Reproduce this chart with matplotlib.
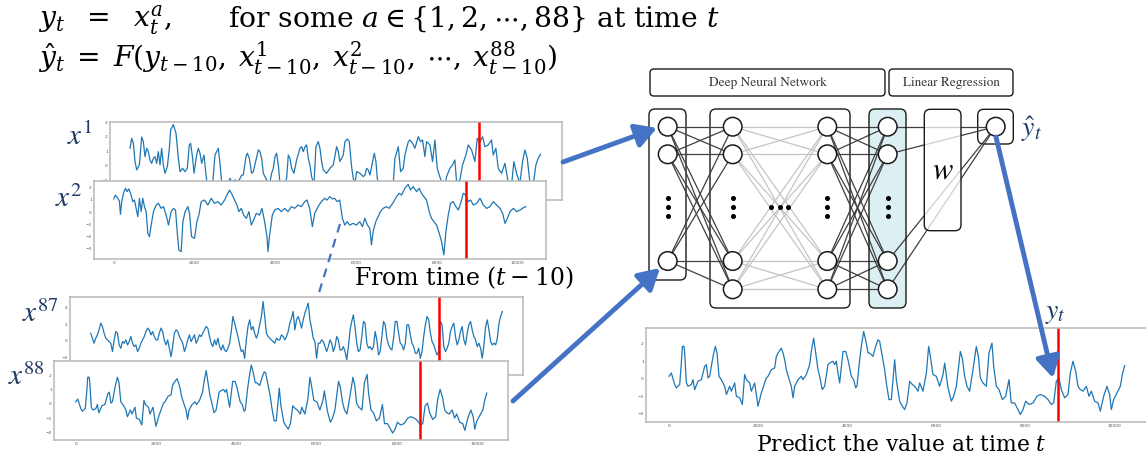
import matplotlib.pyplot as plt
import numpy as np
from matplotlib.patches import FancyBboxPatch, Circle

plt.rcParams['mathtext.fontset'] = 'dejavuserif'
plt.rcParams['font.family'] = ['DejaVu Serif']

W, H = 1146, 459
BLUE = '#4472C4'
NAVY = '#1F3864'
LINE = '#1f77b4'

# ---- series (time index, value) ----
# target series y_t (x^88 shows the same series)
yt_points = [
    (0, 0.15), (52, 0.34), (127, -0.32), (165, -0.51), (240, -0.32), (277, 0.91), (300, 1.86),
    (337, 1.86), (352, 1.48), (390, -0.23), (427, -0.42), (502, -0.32), (539, -0.04), (577, -0.61),
    (652, -0.13), (727, -0.04), (801, 0.72), (839, 0.82), (876, 0.06), (914, 0.15), (989, 1.29),
    (1041, 1.86), (1079, 1.48), (1124, 0.15), (1176, -0.04), (1251, -0.42), (1289, -0.89),
    (1363, -0.42), (1401, -0.70), (1476, -0.23), (1513, -0.99), (1588, -1.08), (1648, -1.46),
    (1700, 0.25), (1738, -0.04), (1813, -0.23), (1850, -0.70), (1925, -0.23), (2000, -1.56),
    (2075, -0.80), (2112, -0.51), (2187, 0.06), (2225, 0.15), (2262, 0.34), (2300, 0.53),
    (2374, 0.63), (2412, 1.29), (2449, 1.48), (2524, 1.76), (2562, 1.48), (2599, 1.10),
    (2637, 0.53), (2712, -0.13), (2749, -0.42), (2787, -1.08), (2824, -0.42), (2899, -0.04),
    (2974, 0.15), (3011, -0.04), (3086, 0.25), (3161, 0.82), (3198, 1.57), (3251, 2.33),
    (3296, 1.48), (3348, 0.53), (3385, 0.15), (3445, -0.61), (3498, -0.42), (3573, 0.82),
    (3610, 0.91), (3685, 1.01), (3723, 0.82), (3760, 1.01), (3797, 0.34), (3835, -0.23),
    (3910, 1.57), (3970, 1.57), (4022, 1.10), (4097, 0.15), (4149, -0.04), (4194, -0.51),
    (4224, -0.42), (4284, 1.10), (4322, 1.86), (4374, 2.71), (4419, 2.24), (4472, 1.48),
    (4509, 1.48), (4584, 1.29), (4644, 1.86), (4696, 2.24), (4734, 2.14), (4794, 1.29),
    (4846, 0.53), (4884, -0.23), (4943, -1.18), (4996, -1.18), (5071, 1.10), (5108, -0.04),
    (5183, -1.27), (5243, -1.56), (5296, -1.75), (5348, -1.37), (5408, -0.13), (5468, -0.32),
    (5521, -0.42), (5595, -0.70), (5633, -0.23), (5708, -0.70), (5783, 0.34), (5835, 1.86),
    (5873, 1.29), (5932, 0.25), (6007, 0.15), (6082, -0.42), (6157, 0.25), (6195, 0.91),
    (6270, -0.51), (6344, -1.27), (6397, -0.99), (6457, -0.42), (6547, 1.57), (6591, 1.19),
    (6644, 0.15), (6696, -0.42), (6756, -0.70), (6831, 0.53), (6906, 1.86), (6951, 1.29),
    (6996, 0.06), (7056, -0.23), (7131, -0.42), (7191, 1.48), (7258, 2.05), (7296, 0.72),
    (7356, -0.42), (7416, -0.61), (7491, -1.18), (7565, -0.99), (7640, -0.04), (7692, -1.37),
    (7767, -1.37), (7842, -1.75), (7895, -2.03), (7955, -1.75), (8015, -1.27), (8090, -1.46),
    (8180, -1.37), (8269, -0.99), (8344, -0.89), (8441, -0.99), (8516, -1.18), (8591, -1.46),
    (8644, -1.37), (8704, -0.13), (8763, 0.06), (8816, -0.61), (8891, -1.08), (8966, -0.89),
    (9018, 0.34), (9078, 1.01), (9138, 0.44), (9191, -0.42), (9243, -0.61), (9303, -0.70),
    (9378, -0.42), (9438, -0.99), (9490, -0.70), (9565, -1.27), (9640, -1.37), (9693, -1.84),
    (9767, -0.99), (9842, -0.42), (9902, -0.89), (9940, -1.75), (9992, -1.18), (10067, -0.80),
    (10142, -0.42), (10187, 0.25), (10239, 0.76),
]

x1_points = [
    (0, 1.21), (42, 1.89), (83, 1.55), (125, 0.30), (166, -0.27), (233, 0.07), (291, 1.99),
    (332, 1.66), (374, 0.64), (416, 1.21), (457, 0.98), (499, 0.41), (540, 0.18), (582, 0.53),
    (623, 0.64), (665, 0.18), (706, 0.98), (748, 0.07), (789, 1.21), (831, 0.07), (873, -0.50),
    (931, -0.05), (981, 1.21), (1014, 2.47), (1080, 2.83), (1147, 2.24), (1205, 0.53),
    (1247, -0.39), (1313, -0.16), (1371, -0.39), (1429, -0.16), (1479, 1.44), (1512, 1.55),
    (1562, 0.53), (1596, -0.50), (1662, 0.75), (1704, 1.21), (1745, 0.87), (1787, 0.18),
    (1845, 0.75), (1895, -0.62), (1928, -1.3), (1994, -1.5), (2061, -1.2), (2119, 0.75),
    (2161, 0.98), (2202, 1.21), (2244, 0.18), (2285, -1.1), (2368, -1.4), (2451, -1.2),
    (2493, -0.85), (2535, -1.1), (2618, -0.96), (2701, -1.1), (2784, -0.62), (2825, -0.62),
    (2892, 0.64), (2925, 0.87), (2975, 0.53), (3033, -0.50), (3075, -0.39), (3133, 0.30),
    (3199, 1.10), (3241, 0.98), (3282, 0.53), (3324, -0.50), (3407, -0.96), (3474, -1.3),
    (3532, -0.50), (3573, -0.16), (3615, 0.64), (3656, 0.87), (3698, 0.07), (3740, -1.2),
    (3823, -1.4), (3906, -0.84), (3947, 0.75), (3989, 0.53), (4030, -0.16), (4089, -0.50),
    (4155, 0.41), (4238, 1.21), (4280, 1.32), (4321, 0.98), (4363, 1.32), (4404, 1.44),
    (4446, 0.53), (4487, 0.07), (4529, -0.73), (4587, -1.3), (4637, 1.32), (4695, 1.67),
    (4737, 1.21), (4778, 0.30), (4820, -0.27), (4903, -0.50), (4986, -0.16), (5069, 0.07),
    (5152, 1.32), (5194, 0.98), (5235, 0.30), (5318, 0.75), (5360, 1.66), (5418, 1.85),
    (5468, 1.66), (5526, -0.05), (5567, -0.84), (5609, -1.2), (5651, -0.39), (5734, -0.50),
    (5817, -0.73), (5858, -0.62), (5900, -0.16), (5941, -0.27), (5983, -0.62), (6025, -0.05),
    (6066, 0.53), (6091, 0.87), (6133, 0.30), (6166, -0.84), (6216, -1.3), (6316, -1.5),
    (6399, -1.3), (6482, -1.4), (6565, -1.2), (6606, 0.53), (6631, 0.75), (6690, 1.32),
    (6748, -0.39), (6814, -0.16), (6856, 0.75), (6939, 1.66), (6980, 1.78), (7047, 1.55),
    (7105, 1.21), (7188, 2.0), (7246, 1.66), (7296, 1.78), (7354, 0.64), (7396, 1.67),
    (7479, 1.44), (7545, 0.30), (7604, 1.78), (7662, -0.16), (7712, -0.62), (7770, -1.1),
    (7853, -1.3), (7895, -0.73), (7978, -0.16), (8044, 0.07), (8102, 0.41), (8144, -1.1),
    (8227, -0.96), (8293, 0.07), (8377, 0.75), (8435, 1.44), (8518, 1.10), (8601, 0.30),
    (8659, 1.89), (8726, 1.66), (8792, 2.0), (8850, 1.32), (8933, 1.44), (9016, 1.78),
    (9058, 0.75), (9124, 1.21), (9183, -0.16), (9266, -0.50), (9349, 0.18), (9432, -1.1),
    (9515, -1.3), (9573, 0.30), (9640, -0.50), (9723, -1.2), (9789, 0.30), (9848, 1.10),
    (9906, 0.53), (9972, -1.1), (10055, -1.3), (10122, 0.07), (10180, 0.53), (10238, 0.80),
]

x2_points = [
    (0, 1.07), (41, 1.39), (99, 1.12), (140, 0.90), (165, -0.19), (198, 0.85), (240, 1.53),
    (289, 1.94), (331, 1.67), (372, 1.89), (430, 1.39), (471, 0.85), (512, 0.98), (554, 0.30),
    (595, -0.38), (636, 1.12), (678, 0.03), (719, 1.12), (760, 0.44), (802, 0.03), (843, -1.75),
    (884, -2.02), (926, -1.07), (983, 0.03), (1050, 0.57), (1107, 0.71), (1173, 0.30),
    (1231, 0.44), (1297, -0.25), (1355, -1.07), (1421, 0.03), (1479, 0.30), (1529, 0.16),
    (1570, -1.61), (1611, -3.11), (1669, -3.25), (1711, -0.79), (1768, 0.03), (1835, 0.44),
    (1876, -0.11), (1926, -2.02), (2000, -2.16), (2058, -0.79), (2107, -0.25), (2165, 0.85),
    (2248, 0.98), (2330, 0.57), (2413, 1.12), (2496, 0.71), (2578, 0.85), (2661, 0.57),
    (2744, 0.98), (2802, 1.39), (2868, 1.80), (2934, 1.39), (2992, 0.98), (3050, 0.57),
    (3099, 0.03), (3157, 0.30), (3215, -0.25), (3281, -0.52), (3347, 0.03), (3405, -1.07),
    (3463, -0.66), (3529, -0.11), (3611, -0.25), (3669, 0.30), (3735, -0.79), (3793, -2.02),
    (3818, -3.25), (3859, -1.88), (3926, -0.25), (3983, 0.16), (4066, 0.30), (4149, 0.03),
    (4231, 0.30), (4314, 0.03), (4397, 0.44), (4479, 0.30), (4562, 0.57), (4645, 0.44),
    (4727, 0.85), (4785, 0.98), (4851, 0.30), (4917, -1.20), (4975, -0.11), (5058, 0.44),
    (5140, 0.85), (5223, 1.12), (5281, 0.98), (5347, 1.26), (5413, 1.07), (5471, 1.12),
    (5529, 0.85), (5595, 0.98), (5661, -0.52), (5719, -1.07), (5777, -0.79), (5843, -1.07),
    (5925, -0.93), (6008, -1.07), (6091, -0.79), (6157, -1.20), (6215, -0.52), (6281, -1.07),
    (6339, -1.34), (6380, -2.70), (6421, -1.61), (6487, -0.79), (6545, -0.38), (6603, 0.03),
    (6669, 0.30), (6752, 0.44), (6818, 0.30), (6876, 0.57), (6933, 0.85), (7000, 1.26),
    (7066, 1.53), (7124, 1.39), (7206, 1.94), (7289, 2.27), (7347, 1.80), (7413, 2.08),
    (7496, 1.67), (7562, 1.94), (7620, 1.53), (7677, 1.26), (7743, 0.98), (7810, 0.03),
    (7867, -0.52), (7925, -0.79), (7992, -1.07), (8058, -1.75), (8115, -2.43), (8173, -3.52),
    (8223, -1.61), (8281, -0.25), (8339, 0.71), (8405, 0.85), (8471, 0.44), (8529, 0.16),
    (8587, 0.71), (8653, 1.53), (8711, 1.39), (8777, 0.85), (8835, 0.98), (8901, 0.57),
    (8983, 0.71), (9066, 1.12), (9149, 0.57), (9231, 0.30), (9314, 0.44), (9397, 0.85),
    (9479, 0.57), (9562, 0.30), (9628, -0.11), (9686, -0.93), (9744, -0.52), (9810, 0.03),
    (9892, 0.30), (9975, 0.03), (10058, 0.16), (10140, 0.35), (10198, 0.44),
]

# x^87 read at even steps across 0..10240
x87_vals = [
    0.9, 0.3, -0.3, 0.3, 0.7, 1.3, 2.1, 1.7, 0.9, 0.3, 0.1, -0.1, -0.3, -1.3, 0.1, 1.1, 0.9,
    -0.5, -0.9, -0.1, -0.3, 0.1, -0.5, -0.1, 0.5, -0.3, -0.7, -0.5, -1.3, -0.9, -0.3, 0.1,
    0.5, 1.1, 1.5, 1.3, 0.7, 1.1, 0.5, 0.1, 0.1, 0.9, 1.5, 1.1, 0.1, -0.5, 0.1, -0.9, -1.9,
    -0.7, 0.9, 1.3, 1.1, 0.5, 0.1, -0.3, -1.3, -0.7, 0.1, 0.7, -0.1, 0.3, 0.7, -0.3, 0.1,
    0.7, 0.5, 0.9, 1.3, 1.7, 1.5, 0.5, -0.3, -0.7, 0.1, -0.5, 0.3, -0.7, -1.1, -0.5, -1.1,
    -1.3, -0.9, -0.3, 1.1, 2.9, 2.1, 1.3, 0.5, -0.5, -1.3, -1.1, -2.1, 0.1, 1.7, 2.5, 1.3,
    1.7, 0.9, 0.3, 0.9, 1.9, 2.9, 4.7, 2.9, 0.9, 0.5, 0.3, 0.1, -0.1, -0.3, 0.3, 0.1, 0.1,
    0.7, 0.5, 0.1, 0.5, 1.1, 2.1, 2.7, 3.5, 1.3, 2.5, 2.9, 2.3, 1.5, 2.5, 3.3, 3.9, 4.5,
    2.5, 1.5, 0.3, -0.1, -2.1, -0.3, -0.3, 0.1, -0.1, -0.7, -1.3, -0.7, 0.1, -0.3, -1.3,
    -0.7, 0.5, 0.1, -1.1, -1.1, -0.7, -1.3, -2.3, -0.7, 1.3, 2.3, 3.1, 1.5, -0.3, -1.3,
    -1.1, 0.5, 2.3, 2.1, -0.3, -0.9, -0.7, -1.1, -0.7, 1.1, 0.1, -1.7, -1.3, 0.5, 2.3, 1.9,
    0.3, -0.5, -0.9, -1.1, 0.3, 2.3, 2.3, 0.9, -0.3, -0.5, -1.1, -0.3, 1.9, 1.9, 0.7, -0.3,
    -0.7, -1.5, -1.5, -0.9, -2.1, -1.3, 0.5, 1.9, 2.9, 2.5, 0.9, -0.1, -0.5, -1.1, -1.7,
    -1.3, 2.3, 1.9, -0.7, -1.3, -0.9, -0.3, 1.1, 1.7, 2.1, 0.5, -0.5, 0.1, 1.1, 1.7, 0.1,
    -0.5, 0.9, 1.9, 2.3, 1.3, 0.5, 0.1, -0.7, -0.3, -0.9, -2.1, -0.5, 1.7, 2.5, 1.3, -0.1,
    -0.5, -0.3, -0.5, 0.3, 2.1, 2.9, 3.5,
]

# position of the red marker in each panel
red_t = {'x1': 8710, 'x2': 8720, 'x87': 8672, 'x88': 8566, 'yt': 8740}

xticks = [0, 2000, 4000, 6000, 8000, 10000]

fig = plt.figure(figsize=(W / 100, H / 100), dpi=100)


def px_rect(x0, y0, x1, y1):
    return [x0 / W, 1 - y1 / H, (x1 - x0) / W, (y1 - y0) / H]


def panel(frame, t, v, red, xlim, ylim, yticks):
    ax = fig.add_axes(px_rect(*frame))
    ax.set_facecolor('white')
    ax.plot(t, v, color=LINE, lw=0.9)
    ax.axvline(red, color='#ff0000', lw=1.8)
    ax.set_xlim(*xlim)
    ax.set_ylim(*ylim)
    ax.set_xticks(xticks)
    ax.set_yticks(yticks)
    ax.tick_params(length=0, pad=1.5, labelsize=3.2, labelcolor='#555555')
    for lab in ax.get_xticklabels() + ax.get_yticklabels():
        lab.set_family('DejaVu Sans')
    for sp in ax.spines.values():
        sp.set_color('#b8b8b8')
        sp.set_linewidth(1.1)
    return ax


yt_t, yt_v = zip(*yt_points)
x1_t, x1_v = zip(*x1_points)
x2_t, x2_v = zip(*x2_points)
x87_t = np.linspace(0, 10240, len(x87_vals))

panel((110, 122, 562, 200), x1_t, x1_v, red_t['x1'], (-499, 10773), (-2.33, 3.01), [-1, 0, 1, 2, 3])
panel((94, 181, 546, 259), x2_t, x2_v, red_t['x2'], (-489, 10701), (-3.85, 2.54), [-3, -2, -1, 0, 1, 2])
panel((70, 297, 523, 375), x87_t, x87_vals, red_t['x87'], (-515, 10754), (-4.1, 5.23), [-2, 0, 2, 4])
panel((54, 361, 508, 440), yt_t, yt_v, red_t['x88'], (-540, 10768), (-2.51, 2.99), [-2, -1, 0, 1, 2])
panel((646, 328, 1150, 422), yt_t, yt_v, red_t['yt'], (-517, 10809), (-2.46, 2.91), [-2, -1, 0, 1, 2])

# ---- overlay in pixel coordinates: equations, network, arrows ----
ov = fig.add_axes([0, 0, 1, 1], zorder=10)
ov.set_xlim(0, W)
ov.set_ylim(H, 0)
ov.axis('off')
ov.patch.set_alpha(0)

eq_size = 20.3
ov.text(38, 27, r'$y_t\ \ =\ \ x_t^a,$', fontsize=eq_size, va='baseline')
ov.text(228, 27, r'for some $a \in \{1,2,\cdots,88\}$ at time $t$', fontsize=eq_size, va='baseline')
ov.text(38, 67, r'$\hat{y}_t\;=\;F(y_{t-10},\:x_{t-10}^1,\:x_{t-10}^2,\:\cdots,\:x_{t-10}^{88})$',
        fontsize=eq_size, va='baseline')

for lab, (lx, ly) in {'x^{1}': (67, 145), 'x^{2}': (55, 207), 'x^{87}': (22, 322), 'x^{88}': (8, 385)}.items():
    ov.text(lx, ly, f'${lab}$', fontsize=21, color=NAVY, va='baseline', math_fontfamily='stix')

ov.text(464, 285, r'From time $(t-10)$', fontsize=17, ha='center', va='baseline')
ov.text(901, 451, r'Predict the value at time $t$', fontsize=15.7, ha='center', va='baseline')
ov.text(1021, 136, r'$\hat{y}_t$', fontsize=20, color=NAVY, va='baseline', math_fontfamily='stix')
ov.text(1045, 318, r'$y_t$', fontsize=20, color=NAVY, va='baseline', math_fontfamily='stix')


def rbox(x0, y0, x1, y1, fc='none', z=2, r=6, alpha=1.0):
    ov.add_patch(FancyBboxPatch((x0, y0), x1 - x0, y1 - y0,
                                boxstyle=f'round,pad=0,rounding_size={r}',
                                fc=fc, ec='#1a1a1a', lw=1.0, zorder=z, alpha=alpha))


# header boxes
rbox(650, 69, 885, 96, r=4)
rbox(889, 69, 1013, 96, r=4)
ov.text(767.5, 83, 'Deep Neural Network', fontsize=9.5, ha='center', va='center',
        color='#333333', family='STIXGeneral')
ov.text(951, 83, 'Linear Regression', fontsize=9.5, ha='center', va='center',
        color='#333333', family='STIXGeneral')

# layer boxes
rbox(649, 109, 686, 280)
rbox(710, 109, 850, 308)
ov.add_patch(FancyBboxPatch((869, 109), 37, 199, boxstyle='round,pad=0,rounding_size=6',
                            fc='#dcf0f3', ec='none', zorder=1))
rbox(869, 109, 906, 308, z=5)
rbox(977.7, 109.3, 1013.3, 144)

layer_x = [667.7, 732.7, 827.3, 887.7]
node_y4 = [126.7, 154.3, 261, 289.3]
layers = [(layer_x[0], node_y4[:3]), (layer_x[1], node_y4), (layer_x[2], node_y4), (layer_x[3], node_y4)]
out_node = (995.7, 126.7)
dark, light = '#404040', '#c4c4c4'

for i in range(3):
    xa, ya = layers[i]
    xb, yb = layers[i + 1]
    col = light if i == 1 else dark
    for a in ya:
        for b in yb:
            ov.plot([xa, xb], [a, b], color=col, lw=0.9, zorder=3)
for b in node_y4:
    ov.plot([layer_x[3], out_node[0]], [b, out_node[1]], color=dark, lw=0.9, zorder=3)

# weight box drawn over the regression lines
ov.add_patch(FancyBboxPatch((924.3, 109.3), 36.7, 121.4, boxstyle='round,pad=0,rounding_size=6',
                            fc='white', ec='none', alpha=0.75, zorder=4))
rbox(924.3, 109.3, 961, 230.7, z=5)
ov.text(942.7, 170, r'$w$', fontsize=22, ha='center', va='center', zorder=6, math_fontfamily='stix')

for lx, ys in layers:
    for y in ys:
        ov.add_patch(Circle((lx, y), 9.3, fc='white', ec='#1a1a1a', lw=1.1, zorder=6))
    ov.plot([lx] * 3, [198.3, 206.7, 215.7], 'o', color='black', ms=2.6, zorder=6)
ov.add_patch(Circle(out_node, 9.3, fc='white', ec='#1a1a1a', lw=1.1, zorder=6))
ov.plot([771, 780, 788.3], [206.7] * 3, 'o', color='black', ms=2.6, zorder=6)

# arrows
arrow_kw = dict(arrowstyle='-|>,head_length=0.7,head_width=0.4', lw=3.5, color=BLUE,
                shrinkA=0, shrinkB=0, mutation_scale=18)
for start, tip in [((563, 162), (657, 128)), ((513, 401), (660, 268)), ((996, 137), (1053, 378))]:
    ov.annotate('', xy=tip, xytext=start, arrowprops=arrow_kw, zorder=8)

ov.plot([340, 318], [224, 296], color=BLUE, lw=1.6, ls=(0, (4, 3)), zorder=8)

fig.savefig('out.png', dpi=100)
